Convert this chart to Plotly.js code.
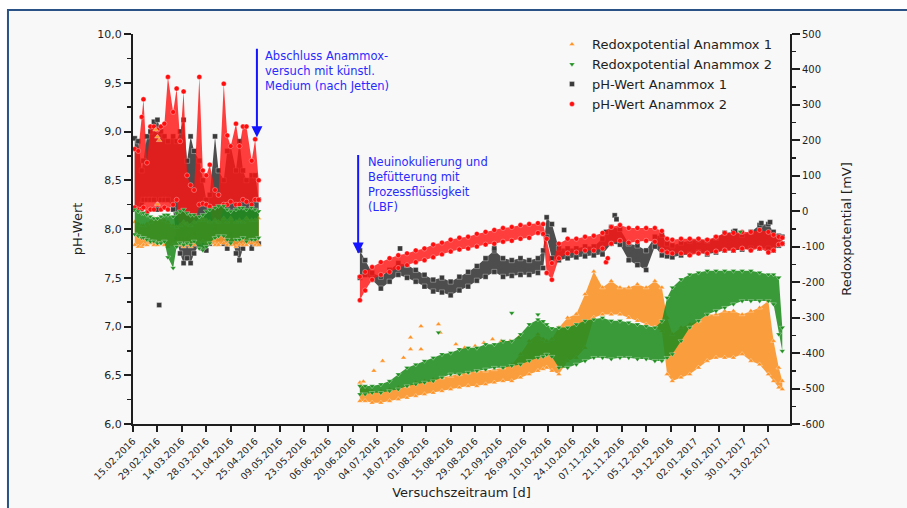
<!DOCTYPE html>
<html><head><meta charset="utf-8">
<script src="https://cdn.plot.ly/plotly-3.0.1.min.js"></script>
<style>html,body{margin:0;padding:0;background:#fff}#chart{width:907px;height:508px}</style>
</head><body><div id="chart"></div>
<script>
// ---------- period 1: Feb-Apr 2016 ----------
const earlyDates = ['2016-02-16','2016-02-18','2016-02-20','2016-02-21','2016-02-23','2016-02-25','2016-02-27','2016-02-29','2016-03-02','2016-03-04','2016-03-06','2016-03-09','2016-03-11','2016-03-13','2016-03-15','2016-03-17','2016-03-19','2016-03-21','2016-03-24','2016-03-26','2016-03-28','2016-03-30','2016-04-02','2016-04-04','2016-04-07','2016-04-09','2016-04-11','2016-04-14','2016-04-16','2016-04-18','2016-04-20','2016-04-23','2016-04-25','2016-04-27'];
const ph1EarlyLo = [8.2,8.2,8.25,8.3,8.3,8.3,8.3,8.2,8.3,8.3,8.3,8.2,7.9,7.75,7.65,7.7,7.65,7.75,7.85,7.8,7.78,7.85,8.0,7.9,7.85,7.8,7.95,7.75,7.68,7.8,7.9,7.8,7.85,7.85];
const ph1EarlyHi = [8.93,8.9,8.6,8.7,8.95,9.0,9.1,9.12,9.0,8.95,8.9,8.95,8.9,9.0,9.12,8.7,8.95,8.8,8.7,8.5,8.3,8.35,8.95,8.6,8.5,8.8,8.85,8.6,8.9,8.6,8.5,8.55,8.55,8.3];
const ph2EarlyLo = [8.22,8.2,8.2,8.22,8.17,8.2,8.2,8.25,8.2,8.22,8.2,8.25,8.3,7.9,7.9,7.9,7.88,7.95,8.25,8.26,8.25,8.23,7.95,7.95,8.25,8.25,8.28,8.25,8.25,8.3,8.28,8.25,8.3,8.3];
const ph2EarlyHi = [8.82,8.8,9.15,9.33,8.68,9.05,9.05,9.02,9.05,9.08,9.56,9.2,9.44,8.9,9.41,8.55,8.45,8.4,9.56,8.6,8.55,8.66,8.4,8.35,9.49,8.96,8.85,9.08,8.85,9.05,9.05,8.7,8.92,8.5];
const rx1EarlyLo = [-95,-100,-100,-95,-95,-90,-95,-95,-90,-95,-100,-95,-90,-95,-100,-95,-100,-95,-90,-85,-90,-90,-95,-95,-90,-95,-95,-100,-95,-95,-95,-90,-95,-95];
const rx1EarlyHi = [-30,-35,-40,-40,-35,-30,-20,-20,-20,-25,-30,-40,-45,-40,-30,-35,-40,-30,-25,-20,-25,-30,-25,-30,-20,-30,-20,-30,-25,-30,-20,-25,-25,-20];
const rx2EarlyLo = [-65,-70,-75,-75,-80,-85,-85,-90,-90,-85,-130,-160,-100,-90,-95,-90,-95,-85,-105,-110,-100,-90,-75,-70,-70,-80,-90,-80,-80,-75,-85,-80,-80,-75];
const rx2EarlyHi = [5,0,-5,-5,-10,-15,-20,-20,-15,-10,-10,-15,-5,0,5,-5,-10,-10,-15,-10,0,5,10,15,15,5,0,5,10,10,5,10,5,0];

// ---------- period 2: Jun 2016 - Feb 2017 ----------
const mainDates = ['2016-06-24','2016-06-27','2016-07-01','2016-07-06','2016-07-11','2016-07-16','2016-07-21','2016-07-26','2016-07-31','2016-08-05','2016-08-10','2016-08-15','2016-08-20','2016-08-25','2016-08-30','2016-09-04','2016-09-09','2016-09-14','2016-09-19','2016-09-24','2016-09-29','2016-10-04','2016-10-07','2016-10-09','2016-10-12','2016-10-16','2016-10-21','2016-10-26','2016-10-31','2016-11-05','2016-11-10','2016-11-15','2016-11-20','2016-11-25','2016-11-30','2016-12-05','2016-12-10','2016-12-14','2016-12-17','2016-12-20','2016-12-25','2016-12-30','2017-01-04','2017-01-09','2017-01-14','2017-01-19','2017-01-24','2017-01-29','2017-02-03','2017-02-08','2017-02-13','2017-02-16','2017-02-19','2017-02-21'];
const ph1MainLo = [7.50,7.53,7.48,7.39,7.46,7.53,7.50,7.46,7.41,7.36,7.35,7.32,7.37,7.41,7.47,7.51,7.56,7.51,7.52,7.53,7.53,7.55,7.60,7.92,7.70,7.68,7.70,7.71,7.72,7.73,7.74,7.85,7.84,7.68,7.63,7.58,7.82,7.73,7.72,7.71,7.73,7.74,7.76,7.74,7.76,7.78,7.78,7.79,7.80,7.80,7.80,7.78,7.83,7.85];
const ph1MainHi = [7.78,7.68,7.55,7.51,7.58,7.65,7.63,7.58,7.53,7.48,7.50,7.46,7.51,7.56,7.62,7.70,7.78,7.70,7.68,7.70,7.68,7.70,7.78,8.12,8.05,7.80,7.80,7.80,7.82,7.82,7.90,8.02,8.00,7.85,7.83,7.78,7.92,7.94,7.85,7.83,7.86,7.88,7.89,7.88,7.91,7.96,7.97,7.94,7.97,8.04,8.05,7.97,7.93,7.92];
const ph2MainLo = [7.27,7.37,7.48,7.53,7.56,7.60,7.63,7.66,7.68,7.71,7.74,7.77,7.79,7.80,7.82,7.84,7.85,7.87,7.88,7.90,7.91,7.96,7.95,7.55,7.48,7.70,7.75,7.76,7.78,7.78,7.80,7.85,7.88,7.86,7.87,7.88,7.87,7.78,7.76,7.75,7.75,7.73,7.75,7.75,7.77,7.78,7.78,7.80,7.78,7.80,7.76,7.78,7.84,7.85];
const ph2MainHi = [7.51,7.56,7.61,7.66,7.70,7.73,7.75,7.78,7.80,7.84,7.86,7.89,7.91,7.92,7.95,7.97,7.99,8.01,8.02,8.04,8.05,8.06,8.05,7.90,7.65,7.85,7.90,7.90,7.92,7.93,7.96,8.02,8.04,8.01,8.01,8.01,8.01,7.98,7.90,7.89,7.90,7.90,7.90,7.89,7.92,7.96,7.96,7.97,7.97,7.99,7.97,7.94,7.92,7.91];
const rx1MainLo = [-535,-535,-540,-540,-535,-530,-526,-521,-516,-512,-507,-502,-497,-493,-493,-488,-483,-479,-479,-469,-460,-450,-445,-441,-450,-460,-422,-413,-385,-300,-291,-291,-291,-300,-309,-319,-328,-338,-460,-479,-469,-460,-441,-422,-413,-413,-413,-403,-422,-432,-460,-479,-497,-502];
const rx1MainHi = [-483,-497,-507,-507,-502,-497,-493,-483,-479,-474,-469,-465,-460,-455,-450,-450,-446,-441,-432,-403,-366,-347,-360,-366,-360,-328,-300,-290,-234,-170,-215,-197,-215,-215,-206,-215,-197,-215,-300,-347,-328,-319,-309,-291,-291,-281,-281,-291,-281,-272,-253,-366,-441,-479];
const rx2MainLo = [-516,-516,-512,-512,-507,-502,-493,-488,-483,-479,-469,-460,-460,-455,-450,-446,-441,-441,-436,-432,-422,-413,-410,-404,-410,-441,-441,-432,-422,-413,-413,-417,-413,-413,-417,-417,-422,-422,-413,-403,-366,-328,-309,-291,-281,-272,-262,-253,-253,-253,-253,-262,-347,-394];
const rx2MainHi = [-493,-493,-493,-488,-479,-460,-441,-432,-422,-413,-403,-399,-389,-385,-385,-375,-375,-366,-366,-347,-319,-305,-310,-319,-330,-328,-328,-319,-309,-305,-300,-309,-309,-314,-319,-324,-328,-310,-244,-215,-192,-178,-173,-168,-168,-168,-168,-168,-168,-173,-178,-178,-187,-328];

// ---------- isolated points ----------
const ph1OutDates = ['2016-03-01','2016-07-17','2016-09-09','2016-10-19','2016-11-12','2016-11-17','2016-11-18','2017-01-25','2017-02-09','2017-02-14'];
const ph1OutVals = [7.22,7.8,7.8,7.99,7.97,8.14,8.1,7.98,8.06,8.07];
const ph2OutDates = ['2016-11-12','2016-11-13'];
const ph2OutVals = [7.66,7.7];
const rx1OutDates = ['2016-02-28','2016-02-29','2016-03-01','2016-02-29','2016-06-26','2016-07-02','2016-07-07','2016-07-19','2016-07-23','2016-07-23','2016-07-29','2016-07-29','2016-08-08','2016-08-09','2016-08-18','2016-08-23','2016-08-29','2016-09-03','2016-09-08','2016-09-13','2016-09-18','2016-09-23'];
const rx1OutVals = [230,210,200,20,-480,-450,-422,-413,-356,-389,-324,-389,-319,-342,-375,-385,-380,-371,-361,-366,-366,-356];
const rx2OutDates = ['2016-08-08','2016-09-19','2016-10-04','2017-01-28'];
const rx2OutVals = [-342,-287,-291,-58];

// ---------- axis ticks ----------
const xTickVals = ['2016-02-15','2016-02-29','2016-03-14','2016-03-28','2016-04-11','2016-04-25','2016-05-09','2016-05-23','2016-06-06','2016-06-20','2016-07-04','2016-07-18','2016-08-01','2016-08-15','2016-08-29','2016-09-12','2016-09-26','2016-10-10','2016-10-24','2016-11-07','2016-11-21','2016-12-05','2016-12-19','2017-01-02','2017-01-16','2017-01-30','2017-02-13'];
const xTickText = ['15.02.2016','29.02.2016','14.03.2016','28.03.2016','11.04.2016','25.04.2016','09.05.2016','23.05.2016','06.06.2016','20.06.2016','04.07.2016','18.07.2016','01.08.2016','15.08.2016','29.08.2016','12.09.2016','26.09.2016','10.10.2016','24.10.2016','07.11.2016','21.11.2016','05.12.2016','19.12.2016','02.01.2017','16.01.2017','30.01.2017','13.02.2017'];
const y2TickVals = [-600,-500,-400,-300,-200,-100,0,100,200,300,400,500];
const y2TickText = ['-600','-500','-400','-300','-200','-100','0','100','200','300','400','500'];

const FONT = 'DejaVu Sans, Verdana, sans-serif';
const INK = '#1e1e1e';

function bandTrace(dates, lo, hi, fill, axis) {
  return {
    type: 'scatter', mode: 'lines', x: dates.concat(dates.slice().reverse()),
    y: lo.concat(hi.slice().reverse()), fill: 'toself', fillcolor: fill,
    line: {width: 0, color: fill}, yaxis: axis, showlegend: false, hoverinfo: 'skip'
  };
}
function series(name, color, fill, symbol, axis, rank, segs, outD, outV) {
  const tr = [];
  let xs = [], ys = [];
  segs.forEach(s => {
    tr.push(bandTrace(s[0], s[1], s[2], fill, axis));
    xs = xs.concat(s[0], s[0]); ys = ys.concat(s[1], s[2]);
  });
  xs = xs.concat(outD); ys = ys.concat(outV);
  tr.push({
    type: 'scatter', mode: 'markers', name: name, x: xs, y: ys, yaxis: axis, legendrank: rank,
    marker: {symbol: symbol, size: 5, color: color, line: {color: 'rgba(255,255,255,0.55)', width: 0.6}}
  });
  return tr;
}

const data = [].concat(
  series('pH-Wert Anammox 1', '#3a3a3a', 'rgba(58,58,58,0.9)', 'square', 'y', 3,
    [[earlyDates, ph1EarlyLo, ph1EarlyHi], [mainDates, ph1MainLo, ph1MainHi]], ph1OutDates, ph1OutVals),
  series('pH-Wert Anammox 2', '#ff0d0d', 'rgba(255,20,20,0.82)', 'circle', 'y', 4,
    [[earlyDates, ph2EarlyLo, ph2EarlyHi], [mainDates, ph2MainLo, ph2MainHi]], ph2OutDates, ph2OutVals),
  series('Redoxpotential Anammox 1', '#ff9326', 'rgba(250,147,40,0.9)', 'triangle-up', 'y2', 1,
    [[earlyDates, rx1EarlyLo, rx1EarlyHi], [mainDates, rx1MainLo, rx1MainHi]], rx1OutDates, rx1OutVals),
  series('Redoxpotential Anammox 2', '#1f8f1f', 'rgba(31,140,31,0.88)', 'triangle-down', 'y2', 2,
    [[earlyDates, rx2EarlyLo, rx2EarlyHi], [mainDates, rx2MainLo, rx2MainHi]], rx2OutDates, rx2OutVals)
);

const axisCommon = {showline: true, linewidth: 2, linecolor: INK, showgrid: false, zeroline: false,
  ticks: 'outside', tickwidth: 2, tickcolor: INK};

const layout = {
  width: 907, height: 508,
  margin: {l: 133, r: 117, t: 34, b: 84},
  paper_bgcolor: '#ffffff', plot_bgcolor: 'rgba(0,0,0,0)',
  separators: ',.',
  font: {family: FONT, color: INK},
  showlegend: true,
  legend: {x: 0.6377, y: 1.012, xanchor: 'left', yanchor: 'top', bgcolor: 'rgba(0,0,0,0)',
    font: {family: FONT, size: 13, color: INK}, tracegroupgap: 0},
  xaxis: Object.assign({}, axisCommon, {
    type: 'date', range: ['2016-02-15', '2017-02-25 10:00'],
    tickmode: 'array', tickvals: xTickVals, ticktext: xTickText, tickangle: -45, ticklen: 6,
    tickfont: {family: FONT, size: 9.5, color: INK},
    title: {text: 'Versuchszeitraum [d]', font: {family: FONT, size: 13, color: INK}, standoff: 7}
  }),
  yaxis: Object.assign({}, axisCommon, {
    range: [6, 10], tick0: 6, dtick: 0.5, tickformat: '.1f', ticklen: 7,
    minor: {ticks: 'outside', dtick: 0.25, tick0: 6, ticklen: 4, tickwidth: 1.5, tickcolor: INK},
    tickfont: {family: FONT, size: 11, color: INK},
    title: {text: 'pH-Wert', font: {family: FONT, size: 13, color: INK}, standoff: 12}
  }),
  yaxis2: Object.assign({}, axisCommon, {
    overlaying: 'y', side: 'right', range: [-600, 500],
    tickmode: 'array', tickvals: y2TickVals, ticktext: y2TickText, ticklen: 8,
    minor: {ticks: 'outside', dtick: 50, tick0: -600, ticklen: 4, tickwidth: 1.5, tickcolor: INK},
    tickfont: {family: FONT, size: 10, color: INK},
    title: {text: 'Redoxpotential [mV]', font: {family: FONT, size: 13, color: INK}, standoff: 18}
  }),
  shapes: [{type: 'rect', xref: 'paper', yref: 'paper', x0: -0.1903, x1: 1.2, y0: -0.25, y1: 1.0615,
    fillcolor: '#f8f8f8', line: {color: '#2b5286', width: 2}, layer: 'below'}],
  annotations: [
    {x: '2016-04-26', y: 8.94, xref: 'x', yref: 'y', text: '', showarrow: true, ax: 0, ay: -90,
      arrowcolor: '#1414ff', arrowwidth: 2, arrowhead: 2, arrowsize: 1.1, standoff: 0},
    {x: '2016-06-23', y: 7.75, xref: 'x', yref: 'y', text: '', showarrow: true, ax: 0, ay: -100,
      arrowcolor: '#1414ff', arrowwidth: 2, arrowhead: 2, arrowsize: 1.1, standoff: 0},
    {xref: 'paper', yref: 'paper', x: 0.1979, y: 0.9667, xanchor: 'left', yanchor: 'top', align: 'left',
      showarrow: false, text: 'Abschluss Anammox-<br>versuch mit künstl.<br>Medium (nach Jetten)',
      font: {family: FONT, size: 11.5, color: '#2a2aff'}},
    {xref: 'paper', yref: 'paper', x: 0.3546, y: 0.6949, xanchor: 'left', yanchor: 'top', align: 'left',
      showarrow: false, text: 'Neuinokulierung und<br>Befütterung mit<br>Prozessflüssigkeit<br>(LBF)',
      font: {family: FONT, size: 11.5, color: '#2a2aff'}}
  ]
};

Plotly.newPlot('chart', data, layout, {displayModeBar: false, staticPlot: true});
</script>
</body></html>
